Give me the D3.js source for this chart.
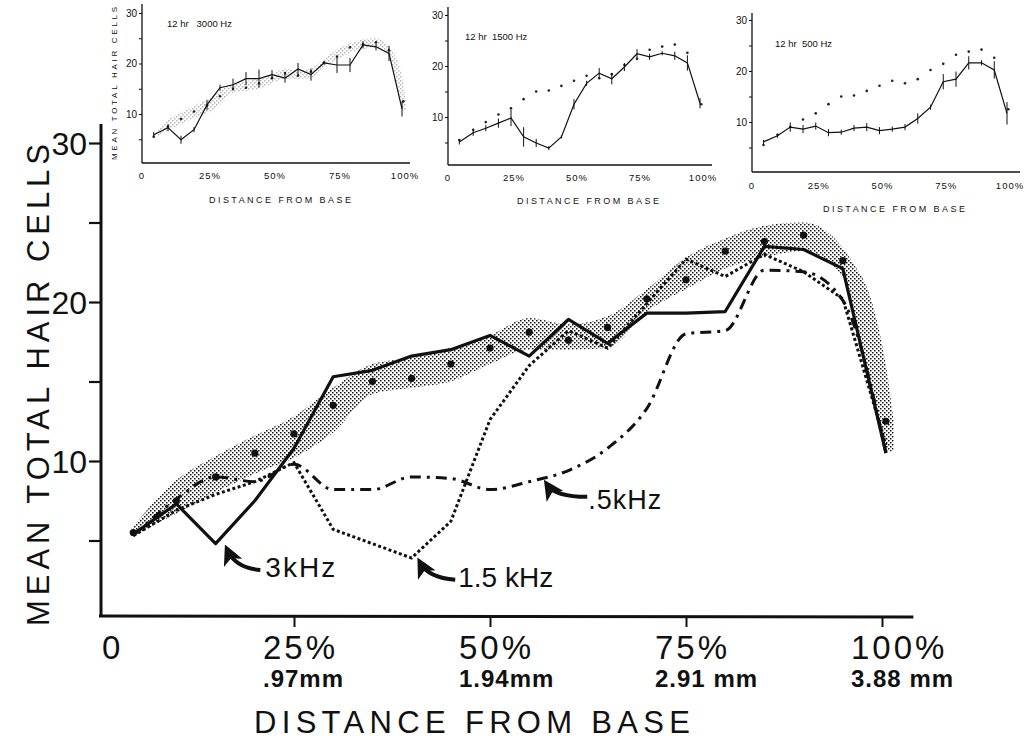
<!DOCTYPE html>
<html>
<head>
<meta charset="utf-8">
<script src="https://cdn.jsdelivr.net/npm/d3@7"></script>
<style>
body { margin: 0; background: #fff; }
text { font-family: "Liberation Sans", Arial, sans-serif; fill: #111; }
</style>
</head>
<body>
<script>
// % distance from base at which hair cells were counted
var positions = [4.5, 10, 15, 20, 25, 30, 35, 40, 45, 50, 55, 60, 65, 70, 75, 80, 85, 90, 95, 100.5];

// normal ears (dots) and the three exposure groups, main panel
var normalMean = [5.5, 7.5, 9.0, 10.5, 11.7, 13.5, 15.0, 15.2, 16.1, 17.1, 18.1, 17.6, 18.4, 20.2, 21.4, 23.2, 23.8, 24.2, 22.6, 12.5];
var hz3000 = [5.4, 7.3, 4.8, 7.5, 10.8, 15.3, 15.7, 16.6, 17.0, 17.9, 16.6, 18.9, 17.4, 19.3, 19.3, 19.4, 23.5, 23.3, 22.1, 10.5];
var hz1500 = [5.3, 6.9, 7.9, 8.7, 9.9, 5.7, 4.8, 3.9, 6.2, 12.6, 16.0, 18.2, 17.1, 19.9, 22.7, 21.6, 23.0, 21.9, 20.2, 11.0];
var hz500 = [5.3, 7.6, 9.0, 8.7, 9.8, 8.2, 8.2, 9.0, 8.9, 8.2, 8.7, 9.4, 10.8, 13.3, 18.0, 18.2, 22.0, 21.9, 20.1, 10.5];

// normal range (shaded band)
var bandPositions = [4.5, 10, 15, 20, 25, 30, 35, 40, 45, 50, 55, 60, 65, 70, 75, 80, 85, 90, 95, 96.5, 98, 99.5, 100.5, 101.5];
var bandLow = [5.3, 6.7, 8.0, 9.2, 10.2, 11.8, 14.2, 14.6, 15.0, 16.1, 17.0, 17.0, 17.1, 19.4, 20.8, 22.1, 22.8, 23.2, 21.6, 19.0, 15.4, 12.5, 10.6, 10.6];
var bandHigh = [5.9, 8.8, 10.3, 11.6, 12.8, 14.6, 16.1, 16.5, 17.1, 17.9, 19.0, 18.6, 19.1, 20.8, 22.8, 24.0, 24.8, 25.0, 23.4, 22.3, 21.0, 18.5, 16.0, 12.5];

// small panels: 12 hr groups with error bars
var inset3000 = [5.9, 7.3, 4.9, 6.9, 11.8, 15.2, 15.8, 17.0, 17.0, 17.8, 17.1, 18.9, 17.8, 20.1, 19.7, 19.7, 23.7, 23.3, 22.0, 11.0];
var err3000 = [0.5, 0.7, 0.8, 0.5, 1.0, 0.6, 1.2, 1.3, 1.8, 0.9, 0.9, 1.2, 1.2, 0.3, 1.6, 1.4, 0.7, 0.7, 1.5, 1.5];
var inset1500 = [5.1, 6.9, 7.8, 8.8, 9.8, 6.1, 4.9, 3.9, 6.1, 12.5, 16.6, 18.6, 17.5, 19.8, 22.4, 21.8, 22.5, 22.0, 20.6, 12.7];
var err1500 = [0.5, 0.6, 0.6, 0.9, 1.6, 1.9, 0.8, 0.4, 0.3, 1.0, 0.5, 1.0, 1.1, 0.8, 0.9, 0.6, 0.4, 0.8, 1.5, 1.0];
var inset500 = [6.1, 7.3, 9.0, 8.6, 9.2, 7.9, 8.0, 8.8, 9.0, 8.3, 8.6, 9.0, 10.7, 12.9, 17.9, 18.4, 21.6, 21.6, 20.2, 11.7];
var err500 = [0.4, 0.4, 0.9, 0.8, 0.7, 0.7, 0.5, 0.6, 0.8, 0.7, 0.5, 0.6, 1.0, 0.5, 1.5, 1.5, 1.3, 0.5, 1.7, 2.2];

var xTickValues = [0, 25, 50, 75, 100];
var xTickPct = ["0", "25%", "50%", "75%", "100%"];
var xTickMm = ["", ".97mm", "1.94mm", "2.91 mm", "3.88 mm"];
var yTickValues = [5, 10, 15, 20, 25, 30];
var insetTitles = ["12 hr   3000 Hz", "12 hr  1500 Hz", "12 hr  500 Hz"];

var svgWidth = 1030;
var svgHeight = 740;

var svg = d3.select("body")
    .append("svg")
    .attr("width", svgWidth)
    .attr("height", svgHeight);

// stipple for the normal range
var defs = svg.append("defs");
var pat = defs.append("pattern")
    .attr("id", "stipple")
    .attr("patternUnits", "userSpaceOnUse")
    .attr("width", 4)
    .attr("height", 4);
pat.append("rect").attr("x", 0).attr("y", 0).attr("width", 1.5).attr("height", 1.5).attr("fill", "#111");
pat.append("rect").attr("x", 2).attr("y", 2).attr("width", 1.5).attr("height", 1.5).attr("fill", "#111");

defs.append("marker")
    .attr("id", "arrowhead")
    .attr("viewBox", "0 0 10 10")
    .attr("refX", 7)
    .attr("refY", 5)
    .attr("markerWidth", 5)
    .attr("markerHeight", 5)
    .attr("markerUnits", "strokeWidth")
    .attr("orient", "auto")
    .append("path")
    .attr("d", "M0,0 L10,5 L0,10 L2.5,5 Z")
    .attr("fill", "#111");

// ---------- main panel ----------
var xScale = d3.scaleLinear().domain([0, 100]).range([98, 882]);
var yScale = d3.scaleLinear().domain([0, 30]).range([620, 143]);

var bandArea = d3.area()
    .x((d, i) => xScale(bandPositions[i]))
    .y0((d, i) => yScale(bandLow[i]))
    .y1((d, i) => yScale(bandHigh[i]))
    .curve(d3.curveMonotoneX);

svg.append("path")
    .datum(bandLow)
    .attr("d", bandArea)
    .attr("fill", "url(#stipple)");

svg.selectAll(".normalDot")
    .data(normalMean)
    .enter()
    .append("circle")
    .attr("class", "normalDot")
    .attr("cx", (d, i) => xScale(positions[i]))
    .attr("cy", d => yScale(d))
    .attr("r", 3.6)
    .attr("fill", "#111");

var line = d3.line()
    .x((d, i) => xScale(positions[i]))
    .y(d => yScale(d));

svg.append("path")
    .datum(hz500)
    .attr("d", line.curve(d3.curveMonotoneX))
    .attr("fill", "none")
    .attr("stroke", "#111")
    .attr("stroke-width", 3)
    .attr("stroke-dasharray", "11 6 3 6");

svg.append("path")
    .datum(hz1500)
    .attr("d", line.curve(d3.curveLinear))
    .attr("fill", "none")
    .attr("stroke", "#111")
    .attr("stroke-width", 3)
    .attr("stroke-dasharray", "3 2.5");

svg.append("path")
    .datum(hz3000)
    .attr("d", line.curve(d3.curveLinear))
    .attr("fill", "none")
    .attr("stroke", "#111")
    .attr("stroke-width", 3.2)
    .attr("stroke-linejoin", "round");

// axes
var bottomAxis = d3.axisBottom(xScale)
    .tickValues(xTickValues.slice(1))
    .tickSize(11)
    .tickFormat("");
var xAxisG = svg.append("g")
    .attr("transform", "translate(0, 616)")
    .call(bottomAxis);
xAxisG.select(".domain").remove();
xAxisG.selectAll("line").attr("stroke-width", 2).attr("stroke", "#111");
svg.append("line")
    .attr("x1", xScale(0) + 1).attr("x2", xScale(104))
    .attr("y1", 616).attr("y2", 617)
    .attr("stroke", "#111").attr("stroke-width", 3);

var leftAxis = d3.axisLeft(yScale)
    .tickValues(yTickValues)
    .tickSize(12)
    .tickPadding(2)
    .tickFormat(d => d % 10 === 0 ? d : "");
var yAxisG = svg.append("g")
    .attr("transform", "translate(101, 0)")
    .call(leftAxis);
yAxisG.select(".domain").remove();
yAxisG.selectAll("line").attr("stroke-width", 2.2).attr("stroke", "#111");
yAxisG.selectAll("text")
    .attr("font-size", 32)
    .attr("font-family", "Liberation Sans, Arial, sans-serif")
    .attr("fill", "#111")
    .attr("dy", "0.36em");
svg.append("line")
    .attr("x1", 101).attr("x2", 101)
    .attr("y1", yScale(31.2)).attr("y2", 617)
    .attr("stroke", "#111").attr("stroke-width", 3);

// tick labels under the x axis
svg.selectAll(".pctLabel")
    .data(xTickValues)
    .enter()
    .append("text")
    .attr("class", "pctLabel")
    .attr("x", (d, i) => i === 0 ? xScale(d) + 4 : xScale(d) - 31)
    .attr("y", 659)
    .attr("font-size", 33)
    .attr("letter-spacing", 3)
    .text((d, i) => xTickPct[i]);

svg.selectAll(".mmLabel")
    .data(xTickValues.slice(1))
    .enter()
    .append("text")
    .attr("class", "mmLabel")
    .attr("x", d => xScale(d) - 31)
    .attr("y", 687)
    .attr("font-size", 24)
    .attr("font-weight", "bold")
    .attr("letter-spacing", 1)
    .text((d, i) => xTickMm[i + 1]);

svg.append("text")
    .attr("x", 254)
    .attr("y", 733)
    .attr("font-size", 31)
    .attr("textLength", 436)
    .attr("lengthAdjust", "spacing")
    .text("DISTANCE FROM BASE");

svg.append("text")
    .attr("transform", "translate(49, 626) rotate(-90)")
    .attr("font-size", 31)
    .attr("textLength", 482)
    .attr("lengthAdjust", "spacing")
    .text("MEAN TOTAL HAIR CELLS");

// curved arrows pointing at each curve
var callouts = [
    { label: "3kHz", pos: 16.5, val: 4.4, tail: [33, 20], ctrl: [8, 18], text: [38, 27], size: 28, spacing: 2 },
    { label: "1.5 kHz", pos: 41.1, val: 3.6, tail: [35, 17], ctrl: [8, 15], text: [38, 24], size: 28, spacing: 0 },
    { label: ".5kHz", pos: 57.3, val: 8.5, tail: [40, 12], ctrl: [8, 12], text: [41, 24], size: 27, spacing: 1 }
];

callouts.forEach(function (c) {
    var hx = xScale(c.pos), hy = yScale(c.val);
    svg.append("path")
        .attr("d", `M${hx + c.tail[0]},${hy + c.tail[1]} Q${hx + c.ctrl[0]},${hy + c.ctrl[1]} ${hx},${hy}`)
        .attr("fill", "none")
        .attr("stroke", "#111")
        .attr("stroke-width", 4)
        .attr("marker-end", "url(#arrowhead)");
    svg.append("text")
        .attr("x", hx + c.text[0])
        .attr("y", hy + c.text[1])
        .attr("font-size", c.size)
        .attr("letter-spacing", c.spacing)
        .text(c.label);
});

// ---------- small panels ----------
var insets = [
    { series: inset3000, err: err3000, title: insetTitles[0], x0: 142, x1: 402, y0: 164.5, y30: 13, axisY: 163, top: 4, right: 410, tickY: 179, titleX: 209, titleY: 203, labX: 167, labY: 27, band: true, yTitle: true },
    { series: inset1500, err: err1500, title: insetTitles[1], x0: 448, x1: 700, y0: 168, y30: 15, axisY: 165, top: 7, right: 712, tickY: 181, titleX: 517, titleY: 204, labX: 465, labY: 40, band: false, yTitle: false },
    { series: inset500, err: err500, title: insetTitles[2], x0: 752, x1: 1007, y0: 173, y30: 20, axisY: 172, top: 13, right: 1020, tickY: 189, titleX: 823, titleY: 212, labX: 775, labY: 47, band: false, yTitle: false }
];

insets.forEach(function (o) {
    var xs = d3.scaleLinear().domain([0, 100]).range([o.x0, o.x1]);
    var ys = d3.scaleLinear().domain([0, 30]).range([o.y0, o.y30]);
    var g = svg.append("g");

    if (o.band) {
        g.append("path")
            .datum(bandLow)
            .attr("d", d3.area()
                .x((d, i) => xs(bandPositions[i]))
                .y0((d, i) => ys(bandLow[i]))
                .y1((d, i) => ys(bandHigh[i]))
                .curve(d3.curveMonotoneX))
            .attr("fill", "url(#stipple)")
            .attr("opacity", 0.3);
    }

    g.selectAll(".insetDot")
        .data(normalMean)
        .enter()
        .append("circle")
        .attr("cx", (d, i) => xs(positions[i]))
        .attr("cy", d => ys(d))
        .attr("r", 1.3)
        .attr("fill", "#222");

    g.append("path")
        .datum(o.series)
        .attr("d", d3.line()
            .x((d, i) => xs(Math.min(positions[i], 100)))
            .y(d => ys(d)))
        .attr("fill", "none")
        .attr("stroke", "#111")
        .attr("stroke-width", 1.2);

    g.selectAll(".errBar")
        .data(o.series)
        .enter()
        .append("line")
        .attr("x1", (d, i) => xs(Math.min(positions[i], 100)))
        .attr("x2", (d, i) => xs(Math.min(positions[i], 100)))
        .attr("y1", (d, i) => ys(d - o.err[i]))
        .attr("y2", (d, i) => ys(d + o.err[i]))
        .attr("stroke", "#111")
        .attr("stroke-width", 1);

    var yAx = d3.axisLeft(ys).tickValues(yTickValues).tickSize(3).tickPadding(2)
        .tickFormat(d => d % 10 === 0 ? d : "");
    var ya = g.append("g").attr("transform", `translate(${o.x0}, 0)`).call(yAx);
    ya.select(".domain").remove();
    ya.selectAll("text").attr("font-size", 10).attr("fill", "#111")
        .attr("font-family", "Liberation Sans, Arial, sans-serif");
    ya.selectAll("line").attr("stroke", "#111");

    g.append("line")
        .attr("x1", o.x0).attr("x2", o.x0)
        .attr("y1", o.top).attr("y2", o.axisY)
        .attr("stroke", "#111").attr("stroke-width", 1.3);
    g.append("line")
        .attr("x1", o.x0).attr("x2", o.right)
        .attr("y1", o.axisY).attr("y2", o.axisY)
        .attr("stroke", "#111").attr("stroke-width", 1.3);

    g.selectAll(".insetTick")
        .data(xTickValues)
        .enter()
        .append("text")
        .attr("x", d => xs(d) + (d === 0 ? 0 : 3))
        .attr("y", o.tickY)
        .attr("text-anchor", "middle")
        .attr("font-size", 9.5)
        .attr("letter-spacing", 1)
        .text((d, i) => xTickPct[i]);

    g.append("text")
        .attr("x", o.titleX)
        .attr("y", o.titleY)
        .attr("font-size", 9)
        .attr("textLength", 142)
        .attr("lengthAdjust", "spacing")
        .text("DISTANCE FROM BASE");

    g.append("text")
        .attr("x", o.labX)
        .attr("y", o.labY)
        .attr("font-size", 9.5)
        .style("white-space", "pre")
        .text(o.title);

    if (o.yTitle) {
        g.append("text")
            .attr("transform", `translate(${o.x0 - 25}, 160) rotate(-90)`)
            .attr("font-size", 8)
            .attr("textLength", 153)
            .attr("lengthAdjust", "spacing")
            .text("MEAN TOTAL HAIR CELLS");
    }
});
</script>
</body>
</html>
